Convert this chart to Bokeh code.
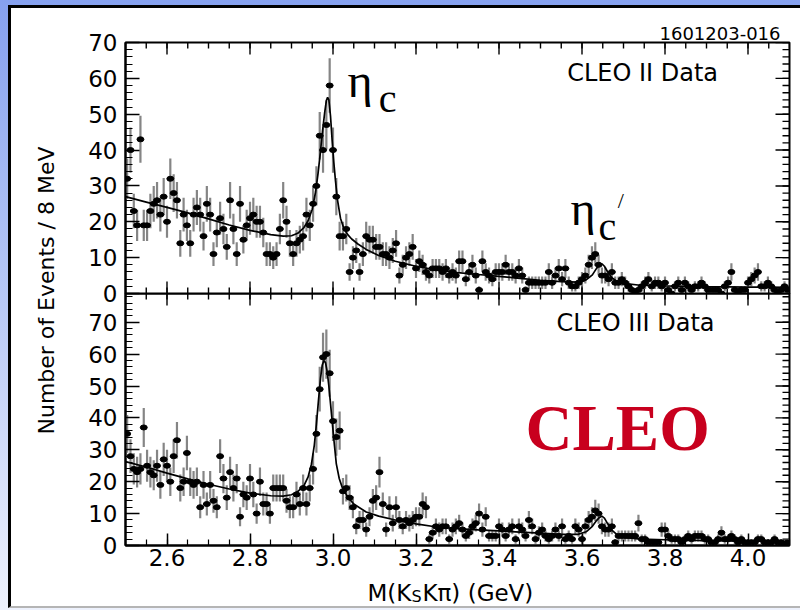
import numpy as np
from math import pi
from bokeh.plotting import figure
from bokeh.models import Range1d, LinearAxis, FixedTicker, Label
from bokeh.layouts import column, row
from bokeh.embed import file_html
from bokeh.resources import INLINE

# ---------------- data ----------------
BIN_LO = 2.5      # GeV, lower edge of first bin
BIN_W = 0.008     # GeV, 8 MeV bins

cleo2_counts = [
    32, 40, 23, 19, 43, 19, 19, 23, 25, 26, 22, 27, 20, 32, 28, 26, 14, 22, 19, 14,
    22, 24, 22, 16, 25, 22, 11, 17, 21, 18, 13, 26, 18, 11, 25, 15, 19, 21, 22, 20,
    20, 17, 11, 11, 10, 11, 18, 26, 20, 14, 11, 14, 15, 16, 22, 19, 25, 30, 44, 40,
    47, 58, 40, 27, 16, 16, 18, 6, 10, 12, 6, 11, 16, 15, 15, 13, 13, 11, 11, 10,
    12, 14, 5, 8, 10, 11, 13, 7, 9, 8, 6, 5, 7, 7, 7, 6, 7, 5, 6, 5,
    9, 9, 4, 6, 8, 5, 1, 9, 6, 5, 4, 6, 6, 6, 8, 6, 6, 5, 7, 5,
    1, 3, 3, 3, 3, 3, 3, 6, 3, 5, 7, 4, 7, 3, 2, 2, 3, 4, 5, 8,
    10, 11, 8, 5, 5, 4, 6, 3, 3, 4, 3, 2, 1, 0, 1, 2, 3, 4, 2, 3,
    3, 2, 3, 1, 0, 2, 3, 1, 3, 2, 1, 2, 2, 3, 2, 1, 1, 1, 1, 0,
    2, 3, 6, 1, 0, 1, 1, 3, 4, 5, 6, 2, 2, 3, 2, 1, 0, 1, 2, 1,
]

cleo3_counts = [
    35, 28, 24, 23, 24, 37, 25, 23, 22, 25, 19, 27, 25, 20, 28, 33, 18, 20, 29, 20,
    19, 20, 12, 19, 13, 19, 14, 12, 28, 21, 15, 23, 18, 21, 9, 16, 15, 21, 16, 10,
    20, 13, 13, 10, 18, 18, 18, 18, 14, 12, 12, 16, 13, 18, 13, 18, 24, 35, 49, 59,
    60, 54, 39, 34, 36, 17, 18, 15, 12, 6, 8, 8, 5, 9, 14, 15, 23, 13, 5, 12,
    7, 12, 8, 6, 8, 7, 8, 9, 9, 13, 12, 2, 4, 6, 5, 6, 6, 2, 5, 6,
    7, 5, 3, 4, 6, 7, 10, 5, 9, 3, 3, 3, 6, 5, 3, 5, 6, 2, 6, 5,
    3, 8, 6, 2, 4, 5, 3, 2, 3, 5, 3, 6, 2, 3, 2, 6, 5, 2, 6, 8,
    9, 11, 10, 6, 5, 5, 6, 1, 3, 3, 3, 3, 3, 3, 7, 2, 2, 1, 1, 1,
    1, 5, 5, 3, 2, 2, 2, 1, 2, 3, 2, 3, 3, 3, 2, 2, 1, 1, 2, 4,
    2, 2, 3, 2, 1, 2, 1, 1, 1, 1, 2, 2, 1, 1, 1, 2, 1, 1, 0, 1,
]

cleo2_fit_x = [2.500, 2.550, 2.600, 2.650, 2.700, 2.750, 2.800, 2.850, 2.880, 2.900,
               2.915, 2.930, 2.940, 2.950, 2.958, 2.964, 2.970, 2.975, 2.980, 2.984,
               2.987, 2.990, 2.994, 2.998, 3.002, 3.006, 3.011, 3.018, 3.026, 3.035,
               3.045, 3.060, 3.080, 3.110, 3.150, 3.200, 3.250, 3.300, 3.350, 3.400,
               3.450, 3.500, 3.550, 3.590, 3.610, 3.625, 3.635, 3.642, 3.648, 3.654,
               3.662, 3.672, 3.685, 3.700, 3.740, 3.800, 3.900, 4.000, 4.100]
cleo2_fit_y = [27.0, 25.5, 24.0, 22.5, 20.8, 19.1, 17.6, 16.4, 16.0, 16.1,
               16.8, 18.4, 20.3, 23.5, 28.3, 33.5, 39.8, 45.5, 50.5, 53.8,
               54.7, 54.0, 49.5, 42.6, 36.5, 31.4, 26.0, 21.0, 18.2, 16.5,
               15.2, 13.8, 12.3, 10.6, 9.0, 7.6, 6.5, 5.8, 5.3, 4.8,
               4.2, 3.7, 3.3, 3.2, 3.8, 5.2, 7.0, 8.0, 8.3, 7.6,
               6.0, 4.4, 3.3, 2.8, 2.3, 2.1, 1.9, 1.8, 1.7]

cleo3_fit_x = [2.500, 2.550, 2.600, 2.650, 2.700, 2.750, 2.800, 2.850, 2.880, 2.900,
               2.915, 2.930, 2.940, 2.948, 2.955, 2.960, 2.965, 2.970, 2.974, 2.978,
               2.982, 2.986, 2.990, 2.994, 2.998, 3.003, 3.008, 3.015, 3.022, 3.035,
               3.050, 3.080, 3.110, 3.150, 3.200, 3.250, 3.300, 3.350, 3.400, 3.450,
               3.500, 3.550, 3.590, 3.610, 3.625, 3.635, 3.642, 3.648, 3.654, 3.662,
               3.672, 3.685, 3.700, 3.740, 3.800, 3.900, 4.000, 4.100]
cleo3_fit_y = [26.3, 24.6, 22.7, 20.9, 19.2, 17.7, 16.4, 15.6, 15.5, 15.9,
               16.9, 18.8, 21.5, 25.5, 31.5, 38.0, 45.5, 52.5, 56.5, 58.0,
               57.3, 54.5, 50.0, 44.5, 39.0, 32.0, 25.6, 21.0, 18.3, 15.3,
               13.0, 10.5, 9.2, 8.0, 6.8, 5.8, 5.3, 4.9, 4.6, 4.2,
               3.9, 3.5, 3.5, 4.3, 6.0, 7.8, 8.8, 9.2, 8.6, 6.8,
               4.8, 3.3, 2.6, 2.0, 1.8, 1.5, 1.4, 1.3]

x_tick_values = [2.6, 2.8, 3.0, 3.2, 3.4, 3.6, 3.8, 4.0]
x_tick_labels = ["2.6", "2.8", "3.0", "3.2", "3.4", "3.6", "3.8", "4.0"]
x_minor_ticks = [round(2.5 + 0.05 * i, 3) for i in range(33)]
y_tick_values = [0, 10, 20, 30, 40, 50, 60, 70]
y_tick_labels = ["0", "10", "20", "30", "40", "50", "60", "70"]

# ---------------- styling ----------------
SANS = "DejaVu Sans"
SERIF = "Liberation Serif"
X_START, X_END = 2.5, 4.1
x_range = Range1d(X_START, X_END)
TICK_FONT = "23px"
PANEL_W = 739
BORDER_L, BORDER_R = 64, 11


def style_axis(ax, major_in, minor_in, standoff):
    ax.axis_line_width = 2
    ax.axis_line_color = "black"
    ax.major_tick_in = major_in
    ax.major_tick_out = 0
    ax.minor_tick_in = minor_in
    ax.minor_tick_out = 0
    ax.major_tick_line_width = 1.5
    ax.minor_tick_line_width = 1.2
    ax.major_tick_line_color = "black"
    ax.minor_tick_line_color = "black"
    ax.major_label_text_font = SANS
    ax.major_label_text_font_size = TICK_FONT
    ax.major_label_text_color = "black"
    ax.major_label_standoff = standoff


def edge_ticks(p, positions, fixed, horizontal_edge, length):
    # inward tick marks on an unlabeled edge: a dash centred on the edge,
    # whose outer half is clipped away by the frame
    n = len(positions)
    if horizontal_edge:
        p.scatter(x=positions, y=[fixed] * n, marker="dash", size=2 * length, angle=pi / 2,
                  line_color="black", line_width=1.4)
    else:
        p.scatter(x=[fixed] * n, y=positions, marker="dash", size=2 * length,
                  line_color="black", line_width=1.4)


def make_panel(counts, fit_x, fit_y, y_end, height, top_b, bottom_b, x_labels, styles):
    kw = dict(styles=styles) if styles else {}
    p = figure(width=PANEL_W, height=height, x_range=x_range, y_range=Range1d(0, y_end),
               output_backend="svg", toolbar_location=None, tools="",
               x_axis_location=None, y_axis_location=None,
               min_border_left=BORDER_L, min_border_right=BORDER_R,
               min_border_top=top_b, min_border_bottom=bottom_b,
               background_fill_color=None, border_fill_color=None,
               outline_line_color="black", outline_line_width=2, **kw)
    p.grid.grid_line_color = None
    y_minor = list(range(0, int(y_end) + 1, 2))

    left = LinearAxis(ticker=FixedTicker(ticks=y_tick_values, minor_ticks=y_minor))
    style_axis(left, 14, 7, 8)
    left.major_label_overrides = dict(zip(y_tick_values, y_tick_labels))
    p.add_layout(left, "left")

    if x_labels:
        below = LinearAxis(ticker=FixedTicker(ticks=x_tick_values, minor_ticks=x_minor_ticks))
        style_axis(below, 12, 6, 3)
        below.major_label_overrides = dict(zip(x_tick_values, x_tick_labels))
        p.add_layout(below, "below")
    else:
        edge_ticks(p, x_tick_values, 0, True, 12)
        edge_ticks(p, x_minor_ticks, 0, True, 6)
    # top and right edges: ticks only
    edge_ticks(p, x_tick_values, y_end, True, 12)
    edge_ticks(p, x_minor_ticks, y_end, True, 6)
    edge_ticks(p, y_tick_values, X_END, False, 14)
    edge_ticks(p, y_minor, X_END, False, 7)

    n = np.asarray(counts, dtype=float)
    xc = BIN_LO + BIN_W * (np.arange(len(n)) + 0.5)
    err = np.sqrt(n)
    p.segment(x0=xc, y0=n - err, x1=xc, y1=n + err, line_color="#858585", line_width=2.2)
    p.segment(x0=xc - BIN_W / 2, y0=n, x1=xc + BIN_W / 2, y1=n, line_color="black", line_width=1.5)
    p.line(fit_x, fit_y, line_color="black", line_width=1.7)
    p.ellipse(x=xc, y=n, width=7, height=5, width_units="screen", height_units="screen",
              fill_color="black", line_color="black")
    return p


p1 = make_panel(cleo2_counts, cleo2_fit_x, cleo2_fit_y, 70, 301, 34, 16, False, None)
p2 = make_panel(cleo3_counts, cleo3_fit_x, cleo3_fit_y, 79, 285, 0, 33, True,
                {"margin-top": "-16px"})

# plot number, top right (as the top panel's title)
p1.title.text = "1601203-016"
p1.title.align = "right"
p1.title.offset = 9
p1.title.standoff = 5
p1.title.text_font = SANS
p1.title.text_font_style = "normal"
p1.title.text_font_size = "18px"
p1.title.text_color = "black"

# ---- annotations, top panel ----
p1.add_layout(Label(x=3.746, y=61.5, text="CLEO II Data", text_align="center",
                    text_baseline="middle", text_font=SANS, text_font_size="24px",
                    text_color="black"))
p1.add_layout(Label(x=3.035, y=59.3, text="η", text_align="left", text_baseline="alphabetic",
                    text_font=SERIF, text_font_size="48px", text_color="black"))
p1.add_layout(Label(x=3.110, y=54.5, text="c", text_align="left", text_baseline="alphabetic",
                    text_font=SERIF, text_font_size="40px", text_color="black"))
p1.add_layout(Label(x=3.572, y=23.8, text="η", text_align="left", text_baseline="alphabetic",
                    text_font=SERIF, text_font_size="48px", text_color="black"))
p1.add_layout(Label(x=3.640, y=18.8, text="c", text_align="left", text_baseline="alphabetic",
                    text_font=SERIF, text_font_size="40px", text_color="black"))
p1.add_layout(Label(x=3.686, y=25.8, text="/", text_align="left", text_baseline="alphabetic",
                    text_font=SERIF, text_font_size="22px", text_color="black"))

# ---- annotations, bottom panel ----
p2.add_layout(Label(x=3.729, y=69.6, text="CLEO III Data", text_align="center",
                    text_baseline="middle", text_font=SANS, text_font_size="24px",
                    text_color="black"))
p2.add_layout(Label(x=3.464, y=36.7, text="CLEO", text_align="left", text_baseline="alphabetic",
                    text_font=SERIF, text_font_style="bold", text_font_size="65px",
                    text_color="#c8001e"))

# x axis title strip (with subscript S), sharing the panels' horizontal geometry
x_strip = figure(width=PANEL_W, height=28, x_range=x_range, y_range=Range1d(0, 28),
                 output_backend="svg", toolbar_location=None, tools="",
                 x_axis_location=None, y_axis_location=None,
                 min_border_left=BORDER_L, min_border_right=BORDER_R,
                 min_border_top=0, min_border_bottom=0,
                 outline_line_color=None, background_fill_color=None, border_fill_color=None)
x_strip.grid.grid_line_color = None
x_strip.add_layout(Label(x=3.083, y=14, text="M(K", text_align="left", text_baseline="alphabetic",
                         text_font=SANS, text_font_size="23px", text_color="black"))
x_strip.add_layout(Label(x=3.083, y=10, x_offset=44, text="S", text_align="left",
                         text_baseline="alphabetic", text_font=SANS, text_font_size="16px",
                         text_color="black"))
x_strip.add_layout(Label(x=3.083, y=14, x_offset=55, text="Kπ) (GeV)", text_align="left",
                         text_baseline="alphabetic", text_font=SANS, text_font_size="23px",
                         text_color="black"))

# y axis title strip
yfig = figure(width=50, height=598, x_range=Range1d(0, 50), y_range=Range1d(0, 598),
              output_backend="svg", toolbar_location=None, tools="",
              x_axis_location=None, y_axis_location=None, min_border=0,
              outline_line_color=None, background_fill_color=None, border_fill_color=None)
yfig.grid.grid_line_color = None
yfig.add_layout(Label(x=35, y=316, text="Number of Events / 8 MeV", angle=pi / 2,
                      text_align="center", text_baseline="middle", text_font=SANS,
                      text_font_size="22px", text_color="black"))

inner = row(yfig, column(p1, p2, x_strip, spacing=0), spacing=0,
            styles={"background-color": "white", "border-top": "3px solid black",
                    "border-left": "3px solid black", "border-bottom": "2px solid #b5b5b5"})
outer = column(inner, styles={"background": "linear-gradient(to bottom, #86a1ef 0%, #b9c9f6 50%, #eef2fd 100%)",
                              "padding-top": "5px", "padding-left": "8px",
                              "padding-bottom": "2px"})

open("out.html", "w").write(file_html(outer, INLINE))
